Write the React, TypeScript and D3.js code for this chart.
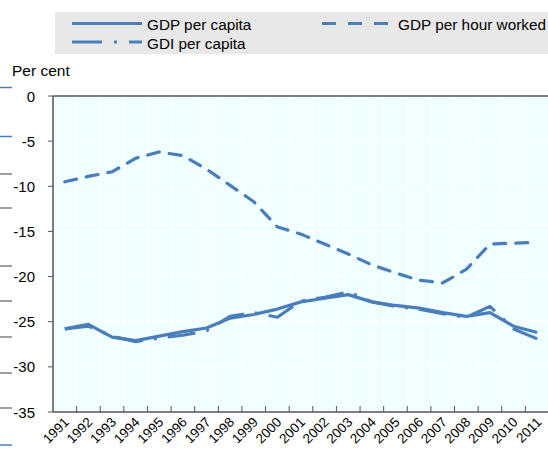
import React from "react";
import * as d3 from "d3";

const years = ["1991","1992","1993","1994","1995","1996","1997","1998","1999","2000","2001","2002","2003","2004","2005","2006","2007","2008","2009","2010","2011"];
const gdpPerCapita = [-25.8,-25.3,-26.7,-27.1,-26.6,-26.1,-25.7,-24.6,-24.2,-23.6,-22.8,-22.4,-22.0,-22.8,-23.2,-23.5,-24.0,-24.4,-24.0,-25.5,-26.2];
const gdiPerCapita = [-25.8,-25.5,-26.6,-27.2,-26.8,-26.5,-26.0,-24.4,-24.0,-24.5,-22.7,-22.3,-21.7,-22.8,-23.3,-23.6,-24.1,-24.5,-23.3,-25.8,-26.9];
const gdpPerHour = [-9.5,-8.9,-8.4,-6.9,-6.2,-6.6,-8.1,-9.9,-11.7,-14.5,-15.3,-16.4,-17.5,-18.7,-19.6,-20.4,-20.7,-19.2,-16.4,-16.3,-16.2];
const yTicks = [0,-5,-10,-15,-20,-25,-30,-35];
const edgeMarks = [87.5,136.5,174,208,266,301,337,373,408,445];
const edgeBlue = [true,true,false,false,false,false,false,false,false,true];

const W = 548, H = 450;
const L = 53, R = 549, T = 96, B = 412;
const color = "#4a7ebb";
const font = "'Liberation Sans', Arial, sans-serif";

export default function App() {
  const x = d3.scaleBand<string>().domain(years).range([L, R]);
  const y = d3.scaleLinear().domain([-35, 0]).range([B, T]);
  const cx = (i: number) => (x(years[i]) as number) + x.bandwidth() / 2;
  const line = d3.line<number>().x((_, i) => cx(i)).y(d => y(d));
  const bounds = years.slice(1).map(yr => x(yr) as number);

  return (
    <svg width={W} height={H} style={{ position: "absolute", left: 0, top: 0, display: "block" }} fontFamily={font}>
      <rect x={0} y={0} width={W} height={H} fill="#ffffff" />
      {edgeMarks.map((m, i) => (
        <line key={i} x1={0} x2={12} y1={m} y2={m} stroke={edgeBlue[i] ? "#4a7ebb" : "#7f7f7f"} strokeWidth={1.5} />
      ))}
      {/* legend */}
      <rect x={55} y={12} width={W - 55} height={42} fill="#e8e8e8" />
      <line x1={72} x2={142} y1={23.5} y2={23.5} stroke={color} strokeWidth={3} />
      <text x={147} y={30} fontSize={15.3} fill="#000">GDP per capita</text>
      <line x1={72} x2={142} y1={42} y2={42} stroke={color} strokeWidth={3} strokeDasharray="30,12,3,12" />
      <text x={147} y={48.5} fontSize={15.3} fill="#000">GDI per capita</text>
      <line x1={322} x2={388} y1={23.5} y2={23.5} stroke={color} strokeWidth={3} strokeDasharray="14,12" />
      <text x={398} y={30} fontSize={15.3} fill="#000" textLength={148} lengthAdjust="spacingAndGlyphs">GDP per hour worked</text>

      <text x={12} y={75.5} fontSize={15.5} fill="#000">Per cent</text>

      {/* plot background */}
      <rect x={L} y={T} width={R - L} height={B - T} fill="#f0ffff" />
      {bounds.map((b, i) => (
        <line key={"v" + i} x1={b} x2={b} y1={T} y2={B} stroke="#ffffff" strokeWidth={1} />
      ))}
      {yTicks.filter(t => t !== 0 && t !== -35).map(t => (
        <line key={"h" + t} x1={L} x2={R} y1={y(t)} y2={y(t)} stroke="#ffffff" strokeWidth={1} />
      ))}

      {/* series */}
      <path d={line(gdpPerHour) || ""} fill="none" stroke={color} strokeWidth={3.2} strokeDasharray="12,10" strokeLinecap="round" />
      <path d={line(gdpPerCapita) || ""} fill="none" stroke={color} strokeWidth={3.2} strokeLinejoin="round" />
      <path d={line(gdiPerCapita) || ""} fill="none" stroke={color} strokeWidth={3.2} strokeDasharray="28,11,3,11" strokeLinejoin="round" />

      {/* axes */}
      <line x1={L} x2={R} y1={T} y2={T} stroke="#555" strokeWidth={1.5} />
      <line x1={L} x2={L} y1={T} y2={B} stroke="#555" strokeWidth={1.5} />
      <line x1={L} x2={R} y1={B} y2={B} stroke="#555" strokeWidth={1.5} />
      {yTicks.map(t => (
        <g key={"yt" + t}>
          <line x1={L - 5} x2={L} y1={y(t)} y2={y(t)} stroke="#555" strokeWidth={1} />
          <text x={35} y={y(t) + 5.5} fontSize={15} textAnchor="end" fill="#000">{t}</text>
        </g>
      ))}
      {bounds.map((b, i) => (
        <line key={"xt" + i} x1={b} x2={b} y1={B - 6} y2={B} stroke="#555" strokeWidth={1} />
      ))}
      {years.map((yr, i) => (
        <text key={yr} transform={`translate(${cx(i) + 5},${B + 11}) rotate(-45)`} fontSize={13.5} textAnchor="end" fill="#000">{yr}</text>
      ))}
    </svg>
  );
}
